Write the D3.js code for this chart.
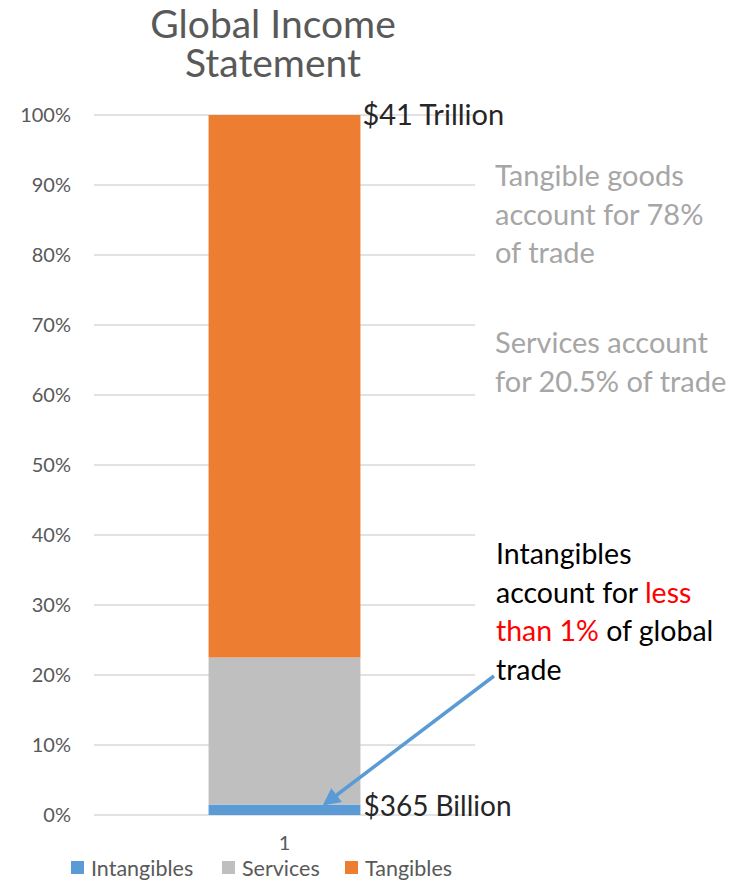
<!DOCTYPE html>
<html>
<head>
<meta charset="utf-8">
<script src="https://cdn.jsdelivr.net/npm/d3@7"></script>
<style>
  body { margin: 0; background: #fff; }
  svg { font-family: Lato, "Open Sans", sans-serif; }
</style>
</head>
<body>
<svg id="chart" width="738" height="887"></svg>
<script>
// ── data ──
const categories = ['1'];
const seriesNames = ['Intangibles', 'Services', 'Tangibles'];
const seriesValues = [1.5, 21, 77.5]; // percent of trade
const seriesColors = ['#5b9bd5', '#bfbfbf', '#ed7d31'];
const yTicks = [0, 10, 20, 30, 40, 50, 60, 70, 80, 90, 100];
const titleLines = ['Global Income', 'Statement'];
const topLabel = '$41 Trillion';
const bottomLabel = '$365 Billion';

function drawChart() {
  const svg = d3.select('#chart');
  svg.selectAll('*').remove();
  const margin = { top: 115, right: 263, bottom: 72, left: 94 };
  const W = 738 - margin.left - margin.right;
  const H = 887 - margin.top - margin.bottom;
  const g = svg.append('g').attr('transform', `translate(${margin.left},${margin.top})`);

  const x = d3.scaleBand().domain(categories).range([0, W]).padding(0.43);
  const y = d3.scaleLinear().domain([0, 100]).range([H, 0]);

  // gridlines
  g.selectAll('.grid')
    .data(yTicks).enter().append('line')
      .attr('x1', 0).attr('x2', W)
      .attr('y1', d => y(d)).attr('y2', d => y(d))
      .attr('stroke', '#d9d9d9').attr('stroke-width', 1.3);

  // y axis labels
  const yAxis = g.append('g')
    .call(d3.axisLeft(y).tickValues(yTicks).tickFormat(d => d + '%').tickSize(0).tickPadding(23));
  yAxis.select('.domain').remove();
  yAxis.selectAll('text').attr('font-size', 20).attr('fill', '#595959').attr('font-family', 'Lato');

  // x axis
  const xAxis = g.append('g').attr('transform', `translate(0,${H})`)
    .call(d3.axisBottom(x).tickSize(0).tickPadding(21));
  xAxis.select('.domain').remove();
  xAxis.selectAll('text').attr('font-size', 20).attr('fill', '#595959').attr('font-family', 'Lato');

  // stacked bar
  const stackData = [Object.fromEntries(seriesNames.map((s, i) => [s, seriesValues[i]]))];
  const stacked = d3.stack().keys(seriesNames)(stackData);
  g.selectAll('.seg')
    .data(stacked).enter().append('rect')
      .attr('x', x('1'))
      .attr('width', x.bandwidth())
      .attr('y', d => y(d[0][1]))
      .attr('height', d => y(d[0][0]) - y(d[0][1]))
      .attr('fill', (d, i) => seriesColors[i]);

  // title
  svg.append('text')
    .attr('x', 273).attr('y', 38)
    .attr('text-anchor', 'middle')
    .attr('font-size', 39).attr('fill', '#595959')
    .selectAll('tspan').data(titleLines).enter().append('tspan')
      .attr('x', 273).attr('dy', (d, i) => i === 0 ? 0 : 39)
      .text(d => d);

  // value labels on bar
  const barRight = margin.left + x('1') + x.bandwidth();
  svg.append('text').attr('x', barRight + 2).attr('y', margin.top + y(100) + 10)
    .attr('font-size', 29).attr('fill', '#262626').text(topLabel);
  svg.append('text').attr('x', barRight + 3).attr('y', margin.top + y(0) + 1)
    .attr('font-size', 28).attr('fill', '#262626').text(bottomLabel);

  // grey notes
  const notes = [
    { lines: ['Tangible goods', 'account for 78%', 'of trade'], y: 186 },
    { lines: ['Services account', 'for 20.5% of trade'], y: 353 }
  ];
  notes.forEach(n => {
    svg.append('text').attr('x', 495).attr('y', n.y)
      .attr('font-size', 29).attr('fill', '#a6a6a6')
      .selectAll('tspan').data(n.lines).enter().append('tspan')
        .attr('x', 495).attr('dy', (d, i) => i === 0 ? 0 : 38.5)
        .text(d => d);
  });

  // intangibles note with red runs
  const intLines = [
    [['Intangibles', '#000']],
    [['account for ', '#000'], ['less', '#ff0000']],
    [['than 1%', '#ff0000'], [' of global', '#000']],
    [['trade', '#000']]
  ];
  const note = svg.append('text').attr('font-size', 28.5);
  intLines.forEach((runs, i) => {
    runs.forEach((r, j) => {
      const t = note.append('tspan').attr('fill', r[1]).text(r[0]);
      if (j === 0) t.attr('x', 496).attr('y', 564 + i * 38.5);
    });
  });

  // arrow
  svg.append('defs').append('marker')
    .attr('id', 'arrowhead').attr('viewBox', '0 0 10 10')
    .attr('refX', 8).attr('refY', 5)
    .attr('markerWidth', 5).attr('markerHeight', 5)
    .attr('orient', 'auto')
    .append('path').attr('d', 'M0,0 L10,5 L0,10 Z').attr('fill', '#5b9bd5');
  svg.append('line')
    .attr('x1', 494).attr('y1', 676)
    .attr('x2', margin.left + x('1') + x.bandwidth() * 0.77)
    .attr('y2', margin.top + y(seriesValues[0]) - 1)
    .attr('stroke', '#5b9bd5').attr('stroke-width', 3.5)
    .attr('marker-end', 'url(#arrowhead)');

  // legend
  const legX = [71, 222, 345];
  const leg = svg.selectAll('.leg').data(seriesNames).enter().append('g')
    .attr('transform', (d, i) => `translate(${legX[i]},868)`);
  leg.append('rect').attr('y', -7).attr('width', 13).attr('height', 13)
    .attr('fill', (d, i) => seriesColors[i]);
  leg.append('text').attr('x', 20).attr('y', 8)
    .attr('font-size', 21.5).attr('fill', '#595959').text(d => d);
}

drawChart();
</script>
</body>
</html>
